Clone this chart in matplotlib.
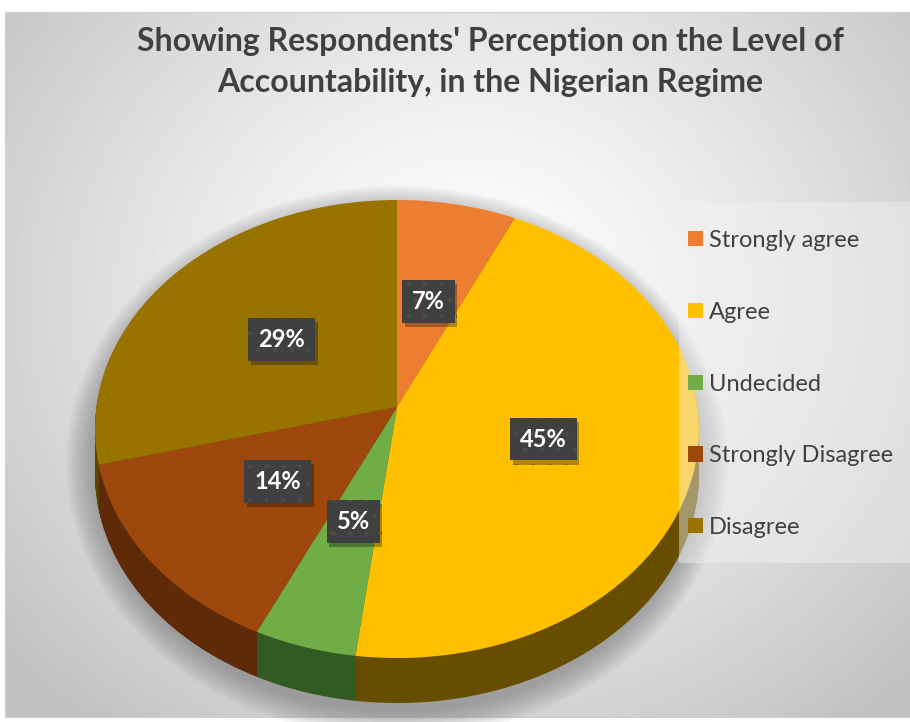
import numpy as np
import matplotlib
matplotlib.use("Agg")
import matplotlib.pyplot as plt
import matplotlib.transforms as mtransforms
import matplotlib.patheffects as pe
from matplotlib.patches import Rectangle, Ellipse

# data
categories = ["Strongly agree", "Agree", "Undecided", "Strongly Disagree", "Disagree"]
percent = [7, 45, 5, 14, 29]
title = "Showing Respondents' Perception on the Level of\nAccountability, in the Nigerian Regime"

top_colors = ["#ED7D31", "#FFC000", "#70AD47", "#9E480E", "#997300"]
side_colors = ["#8E4A1D", "#664D00", "#335A22", "#5E2A08", "#5C4500"]

W, H = 910, 722


class Tilt(mtransforms.Transform):
    """Unit-circle pie -> tilted disc in pixel-like data coords (simple perspective)."""
    input_dims = 2
    output_dims = 2

    def __init__(self, cx, cy, sx, sy, p):
        super().__init__()
        self.cx, self.cy, self.sx, self.sy, self.p = cx, cy, sx, sy, p

    def transform_non_affine(self, values):
        v = np.asarray(values, dtype=float).reshape(-1, 2)
        w = 1 + self.p * v[:, 1]
        return np.column_stack([self.cx + self.sx * v[:, 0] / w,
                                self.cy - self.sy * v[:, 1] / w])


fig = plt.figure(figsize=(W / 100, H / 100), dpi=100)
fig.patch.set_facecolor("white")
ax = fig.add_axes([0, 0, 1, 1])

# card background: soft radial grey gradient
x0, x1, y0, y1 = 5, 910, 12, 717
yy, xx = np.mgrid[y0:y1, x0:x1]
r = np.hypot((xx - 470) / 1.0, (yy - 300) / 0.9) / 600
bg = 1 - 0.24 * np.clip(r, 0, 1) ** 1.3
ax.imshow(bg, cmap="gray", vmin=0, vmax=1, extent=(x0, x1, y1, y0),
          origin="upper", zorder=0, interpolation="bilinear")
ax.add_patch(Rectangle((x0, y0), x1 - x0, y1 - y0, fill=False,
                       edgecolor="#cfcfcf", linewidth=0.8, zorder=1))

# soft shadow under the pie
for k in range(14):
    ax.add_patch(Ellipse((397, 462), 610 + 4 * k, 500 + 4 * k,
                         facecolor="#666666", edgecolor="none",
                         alpha=0.045, zorder=2))

tilt = Tilt(397, 407, 300.6, 226.9, 0.0961)
depth = 45

# side of the disc: stacked copies pushed downward
for d in range(depth, 0, -1):
    wedges, _ = ax.pie(percent, colors=side_colors, startangle=90,
                       counterclock=False, wedgeprops=dict(linewidth=0))
    shift = tilt + mtransforms.Affine2D().translate(0, d) + ax.transData
    for w_ in wedges:
        w_.set_transform(shift)
        w_.set_zorder(3)

# top face
wedges, _, autotexts = ax.pie(percent, colors=top_colors, startangle=90,
                              counterclock=False, autopct="%1.0f%%",
                              pctdistance=0.5, wedgeprops=dict(linewidth=0))
for w_ in wedges:
    w_.set_transform(tilt + ax.transData)
    w_.set_zorder(4)

for t in autotexts:
    t.set_transform(tilt + ax.transData)
    t.set_zorder(6)
    t.set_color("white")
    t.set_fontsize(17)
    t.set_fontweight("bold")
    t.set_fontfamily(["Lato", "DejaVu Sans"])
    t.set_bbox(dict(boxstyle="square,pad=0.42", facecolor="#404040",
                    edgecolor="#4b4b4b", linewidth=0, hatch="."))
    t.get_bbox_patch().set_path_effects(
        [pe.SimplePatchShadow(offset=(2, -3), shadow_rgbFace="#000000", alpha=0.3),
         pe.Normal()])

ax.set_xlim(0, W)
ax.set_ylim(H, 0)
ax.set_aspect("auto")
ax.axis("off")

# legend panel (semi-transparent)
ax.add_patch(Rectangle((679, 202), 231, 361, facecolor="#f2f2f2",
                       edgecolor="none", alpha=0.45, zorder=5))
leg = ax.legend(wedges, categories, loc="upper left",
                bbox_to_anchor=(688, 230), bbox_transform=ax.transData,
                frameon=False, labelcolor="#404040",
                handlelength=0.62, handleheight=0.62, handletextpad=0.28,
                labelspacing=2.15, borderpad=0, borderaxespad=0,
                prop=dict(family=["Lato", "DejaVu Sans"], size=17))
leg.set_zorder(7)

ax.text(490, 62, title, ha="center", va="center", fontsize=23,
        fontweight="bold", color="#404040", linespacing=1.5,
        family=["Lato", "DejaVu Sans"], zorder=7)

fig.savefig("out.png", dpi=100)
